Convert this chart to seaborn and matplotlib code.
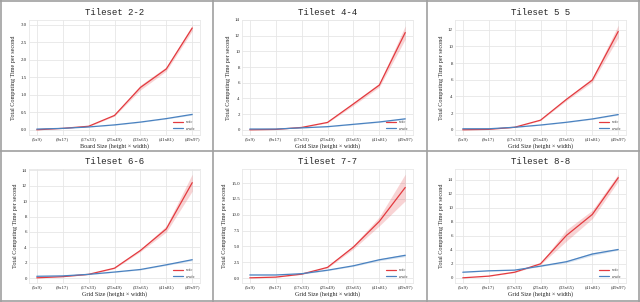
import numpy as np
import pandas as pd
import seaborn as sns
import matplotlib
matplotlib.use("Agg")
import matplotlib.pyplot as plt
from matplotlib.lines import Line2D

# grid sizes on the x axis (same for every tileset)
sizes = ["(5x9)", "(9x17)", "(17x33)", "(25x49)", "(33x65)", "(41x81)", "(49x97)"]
methods = ["wfc", "a-wfc"]
titles = ["Tileset 2-2", "Tileset 4-4", "Tileset 5 5",
          "Tileset 6-6", "Tileset 7-7", "Tileset 8-8"]

# mean computing time per method
wfc_22 = [0.0, 0.04, 0.1, 0.41, 1.21, 1.74, 2.91]
awfc_22 = [0.02, 0.04, 0.08, 0.14, 0.22, 0.32, 0.44]
wfc_44 = [0.0, 0.05, 0.3, 0.94, 3.3, 5.7, 12.4]
awfc_44 = [0.1, 0.1, 0.25, 0.4, 0.7, 1.0, 1.4]
wfc_55 = [0.0, 0.05, 0.3, 1.15, 3.65, 5.97, 11.8]
awfc_55 = [0.12, 0.12, 0.3, 0.57, 0.9, 1.3, 1.83]
wfc_66 = [0.05, 0.2, 0.5, 1.3, 3.6, 6.4, 12.4]
awfc_66 = [0.25, 0.3, 0.5, 0.8, 1.13, 1.74, 2.4]
wfc_77 = [0.05, 0.16, 0.63, 1.7, 4.9, 8.95, 14.3]
awfc_77 = [0.5, 0.5, 0.7, 1.25, 1.95, 2.9, 3.6]
wfc_88 = [0.0, 0.24, 0.8, 2.0, 6.05, 9.05, 14.3]
awfc_88 = [0.8, 1.0, 1.1, 1.67, 2.3, 3.4, 4.05]

# half width of the shaded confidence band
wfc_err_22 = [0.0, 0.0, 0.01, 0.02, 0.07, 0.06, 0.08]
awfc_err_22 = [0.0, 0.0, 0.0, 0.01, 0.01, 0.01, 0.02]
wfc_err_44 = [0.0, 0.0, 0.02, 0.05, 0.2, 0.25, 0.85]
awfc_err_44 = [0.0, 0.0, 0.02, 0.03, 0.05, 0.06, 0.08]
wfc_err_55 = [0.0, 0.0, 0.02, 0.05, 0.15, 0.25, 0.75]
awfc_err_55 = [0.0, 0.0, 0.02, 0.03, 0.04, 0.05, 0.07]
wfc_err_66 = [0.0, 0.01, 0.03, 0.06, 0.15, 0.4, 1.1]
awfc_err_66 = [0.02, 0.02, 0.03, 0.04, 0.06, 0.08, 0.12]
wfc_err_77 = [0.0, 0.02, 0.05, 0.1, 0.3, 0.7, 2.1]
awfc_err_77 = [0.03, 0.03, 0.05, 0.07, 0.1, 0.15, 0.2]
wfc_err_88 = [0.0, 0.02, 0.05, 0.1, 0.8, 0.6, 0.5]
awfc_err_88 = [0.03, 0.03, 0.04, 0.06, 0.15, 0.2, 0.1]

wfc_all = [wfc_22, wfc_44, wfc_55, wfc_66, wfc_77, wfc_88]
awfc_all = [awfc_22, awfc_44, awfc_55, awfc_66, awfc_77, awfc_88]
wfc_err_all = [wfc_err_22, wfc_err_44, wfc_err_55, wfc_err_66, wfc_err_77, wfc_err_88]
awfc_err_all = [awfc_err_22, awfc_err_44, awfc_err_55, awfc_err_66, awfc_err_77, awfc_err_88]
yticks_all = [np.arange(0, 3.01, 0.5), np.arange(0, 14.1, 2), np.arange(0, 12.1, 2),
              np.arange(0, 14.1, 2), np.arange(0, 15.1, 2.5), np.arange(0, 14.1, 2)]
yfmt_all = ["{:.1f}", "{:.0f}", "{:.0f}", "{:.0f}", "{:.1f}", "{:.0f}"]

red = "#e33a3f"
blue = "#4a82c0"
palette = {"wfc": red, "a-wfc": blue}

sns.set_theme(style="whitegrid")
plt.rcParams["font.family"] = ["Liberation Serif", "DejaVu Serif"]
plt.rcParams["grid.color"] = "#e6e6e6"
plt.rcParams["grid.linewidth"] = 0.6
plt.rcParams["axes.edgecolor"] = "#e8e8e8"
plt.rcParams["axes.linewidth"] = 0.6

W, H = 640, 302
fig = plt.figure(figsize=(W / 100, H / 100), dpi=100)

for i in range(6):
    col, row = i % 3, i // 3
    x0 = 213 * col + 29
    top = 20 if row == 0 else 169
    bottom = 135 if row == 0 else 283
    ax = fig.add_axes([x0 / W, 1 - bottom / H, 171 / W, (bottom - top) / H])

    df = pd.DataFrame({
        "size": sizes * 2,
        "time": wfc_all[i] + awfc_all[i],
        "method": ["wfc"] * 7 + ["a-wfc"] * 7,
    })
    sns.lineplot(data=df, x="size", y="time", hue="method", palette=palette,
                 linewidth=0.9, ax=ax, legend=False)

    # shaded bands
    for vals, errs, c in [(wfc_all[i], wfc_err_all[i], red),
                          (awfc_all[i], awfc_err_all[i], blue)]:
        v = np.array(vals)
        e = np.array(errs)
        ax.fill_between(range(7), v - e, v + e, color=c, alpha=0.22, lw=0)

    ax.set_xlim(-0.3, 6.3)
    ax.set_xticks(range(7))
    ax.set_xticklabels(sizes, fontsize=3.5)
    yt = yticks_all[i]
    ax.set_yticks(yt)
    ax.set_yticklabels([yfmt_all[i].format(t) for t in yt], fontsize=3.5)
    ax.tick_params(pad=1.5, length=0)
    ax.set_title(titles[i], fontsize=6.5, family="Liberation Mono", pad=3.5)
    ax.set_xlabel("Board Size (height × width)" if i == 0 else "Grid Size (height × width)",
                  fontsize=4.4, labelpad=1.5)
    ax.set_ylabel("Total Computing Time per second", fontsize=4.4, labelpad=3)

    handles = [Line2D([], [], color=red, lw=0.9), Line2D([], [], color=blue, lw=0.9)]
    ax.legend(handles, methods, loc="lower right", fontsize=3, frameon=False,
              handlelength=2.5, borderaxespad=0.6, labelspacing=0.6)

# grey frames between the six panels
gc = "#a0a0a0"
fig.add_artist(Line2D([213 / W, 213 / W], [0, 1], color=gc, lw=1.2))
fig.add_artist(Line2D([427 / W, 427 / W], [0, 1], color=gc, lw=1.2))
fig.add_artist(Line2D([0, 1], [1 - 151 / H, 1 - 151 / H], color=gc, lw=1.2))
fig.add_artist(Line2D([0.002, 0.002], [0, 1], color=gc, lw=1.2))
fig.add_artist(Line2D([0.998, 0.998], [0, 1], color=gc, lw=1.2))
fig.add_artist(Line2D([0, 1], [0.997, 0.997], color=gc, lw=1.2))
fig.add_artist(Line2D([0, 1], [0.003, 0.003], color=gc, lw=1.2))

fig.savefig("out.png", dpi=100)
